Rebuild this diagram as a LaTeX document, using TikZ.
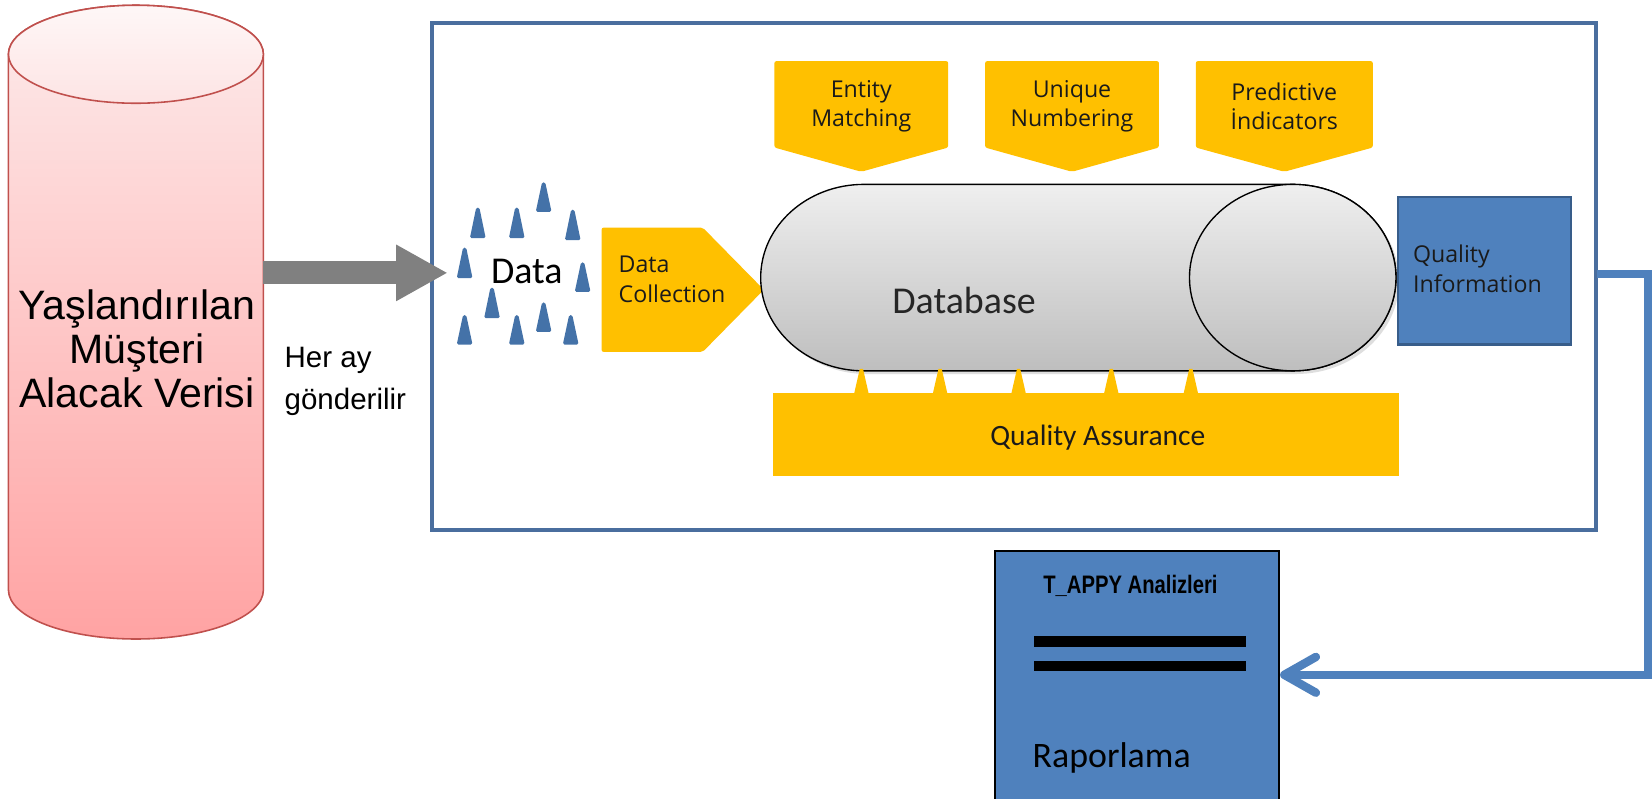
\documentclass[tikz,border=0pt]{standalone}
\usepackage{fontspec}
\usepackage{graphicx}
\setmainfont{Liberation Sans}
\newfontfamily\osans{Open Sans}
\newfontfamily\carl{Carlito}
\usetikzlibrary{arrows.meta,calc}
\definecolor{yel}{HTML}{FFC000}
\definecolor{qblue}{HTML}{4F81BD}
\definecolor{qblueD}{HTML}{385D8A}
\definecolor{boxblue}{HTML}{4A6E9E}
\definecolor{pinkT}{HTML}{FDEBEB}
\definecolor{pinkB}{HTML}{FFA3A3}
\definecolor{pinkL}{HTML}{C0504D}
\definecolor{grayT}{HTML}{EFEFEF}
\definecolor{grayB}{HTML}{BEBEBE}
\definecolor{arrgray}{HTML}{808080}
\definecolor{dropblue}{HTML}{4472A8}
\definecolor{txtdark}{HTML}{1A1A1A}
\tikzset{
  ybox/.style={fill=yel, rounded corners=2pt},
  ytext/.style={font=\osans\fontsize{22}{28}\selectfont, text=txtdark, align=center, inner sep=0pt},
  dropshape/.style={fill=dropblue, rounded corners=1.5pt},
  conn/.style={draw=qblue, line width=7.5pt, line join=miter,
    -{Straight Barb[length=30pt, width=34pt, line width=8pt, line cap=round, line join=round]}},
  grayarrow/.style={draw=arrgray, line width=22pt, -{Triangle[length=49pt, width=50pt]}},
}
\newcommand{\mydrop}[3]{\fill[dropshape] (#1-7.5,#3) -- (#1-1.5,#2) -- (#1+1.5,#2) -- (#1+7.5,#3) -- cycle;}
\newcommand{\spike}[1]{\fill[yel] (#1-7,374) -- (#1-1.5,350) -- (#1+1.5,350) -- (#1+7,374) -- cycle;}
\begin{document}
\begin{tikzpicture}[x=1pt,y=-1pt]
\useasboundingbox[fill=white] (0,0) rectangle (1568,757.5);

% ---- pink cylinder ----
\shade[top color=pinkT, bottom color=pinkB, draw=pinkL, line width=1.5pt]
  (8,51.5) -- (8,560) arc[start angle=180, end angle=0, x radius=121, y radius=46.5]
  -- (250,51.5) arc[start angle=0, end angle=-180, x radius=121, y radius=46.5] -- cycle;
\shade[top color=white!60!pinkT, bottom color=pinkT!90!pinkB, draw=pinkL, line width=1.5pt]
  (129,51.5) ellipse[x radius=121, y radius=46.5];
\node[font=\fontsize{39}{42}\selectfont, align=center, inner sep=0pt] (cyltxt) at (130,331)
  {Yaşlandırılan\\Müşteri\\Alacak Verisi};
\coordinate (cylE) at (250,259);

% ---- big box ----
\node[draw=boxblue, line width=3.5pt, minimum width=1105pt, minimum height=481pt, inner sep=0pt] (bigbox) at (962.5,262.5) {};
\coordinate (arrTip) at (425,259);
\draw[grayarrow] (cylE) -- (arrTip);

\node[font=\fontsize{28}{39}\selectfont, align=left, anchor=west, inner sep=0pt] (her) at (270,362) {Her ay\\gönderilir};

% ---- data drops ----
\mydrop{453.5}{197}{226}
\mydrop{490.5}{197}{226}
\mydrop{516}{173}{201}
\mydrop{543.6}{199}{228}
\mydrop{441}{235}{264}
\mydrop{553}{249}{277}
\mydrop{467}{273}{302}
\mydrop{516}{287}{315}
\mydrop{441}{299}{327}
\mydrop{490.5}{299}{327}
\mydrop{541.7}{299}{327}
\node[font=\carl\fontsize{36}{36}\selectfont, inner sep=0pt] (data) at (500,258) {Data};

% ---- data collection ----
\fill[ybox] (571,216) -- (667,216) -- (725,275) -- (667,334) -- (571,334) -- cycle;
\node[ytext, align=left, anchor=west] (dcol) at (587,265) {Data\\Collection};

% ---- top pentagons ----
\fill[ybox] (735,58) -- (900,58) -- (900,140) -- (817.5,163) -- (735,140) -- cycle;
\node[ytext] (em) at (817.5,101) {Entity\\Matching};
\fill[ybox] (935,58) -- (1100,58) -- (1100,140) -- (1017.5,163) -- (935,140) -- cycle;
\node[ytext] (un) at (1017.5,101) {Unique\\Numbering};
\fill[ybox] (1135,58) -- (1303,58) -- (1303,140) -- (1219,163) -- (1135,140) -- cycle;
\node[ytext] (pi) at (1219,101) {Predictive\\İndicators};

% ---- database ----
\fill[black!25, opacity=0.5] (823,178) -- (1230,178) arc[start angle=-90, end angle=90, x radius=98, y radius=88.5]
  -- (823,355) arc[start angle=90, end angle=270, x radius=98, y radius=88.5] -- cycle;
\shade[top color=grayT, bottom color=grayB, draw=black, line width=1.3pt]
  (820,175) -- (1227,175) arc[start angle=-90, end angle=90, x radius=98, y radius=88.5]
  -- (820,352) arc[start angle=90, end angle=270, x radius=98, y radius=88.5] -- cycle;
\shade[top color=grayT, bottom color=grayB, draw=black, line width=1.3pt]
  (1227,263.5) ellipse[x radius=98, y radius=88.5];
\node[font=\carl\fontsize{36}{36}\selectfont, text=black!85, inner sep=0pt] (db) at (915,285) {Database};

% ---- quality assurance ----
\spike{817.6}
\spike{892.3}
\spike{966.8}
\spike{1054.8}
\spike{1130.3}
\fill[yel] (734,373) rectangle (1328,452);
\node[font=\carl\fontsize{28}{28}\selectfont, text=txtdark, inner sep=0pt] (qa) at (1042,415) {Quality Assurance};

% ---- quality information ----
\node[fill=qblue, draw=qblueD, line width=2pt, minimum width=164pt, minimum height=140pt, anchor=north west, inner sep=0pt] (qi) at (1326,186) {};
\node[ytext, align=left, anchor=west] (qitxt) at (1341,255) {Quality\\Information};

% ---- raporlama ----
\node[fill=qblue, draw=black, line width=2pt, minimum width=270pt, minimum height=240pt, anchor=north west, inner sep=0pt] (rap) at (943,522) {};
\node[font=\bfseries\fontsize{24}{24}\selectfont, inner sep=0pt] (tappy) at (1073,556) {\scalebox{0.8}[1]{T\_APPY Analizleri}};
\fill[black] (981,604) rectangle (1183,614);
\fill[black] (981,627) rectangle (1183,637);
\node[font=\carl\fontsize{34}{34}\selectfont, anchor=base west, inner sep=0pt] (rtxt) at (980,728) {Raporlama};

% ---- connector ----
\coordinate (qstart) at (1516,260);
\coordinate (rapin) at (1215,640.5);
\draw[conn] (qstart) -- (1564,260) |- (rapin);
\end{tikzpicture}
\end{document}
